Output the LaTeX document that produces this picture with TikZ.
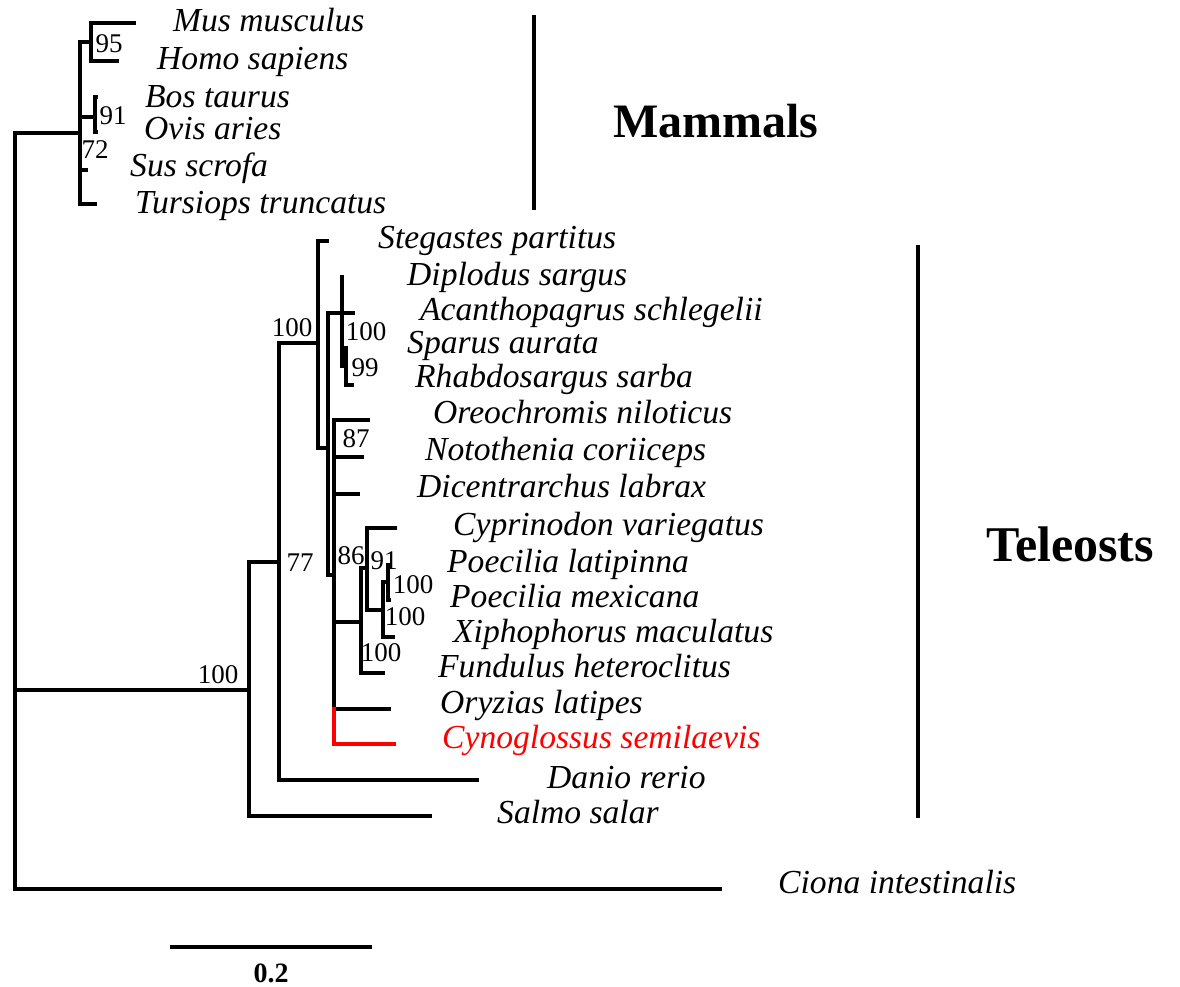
\documentclass[tikz,border=0pt]{standalone}
\usepackage{fontspec}
\setmainfont{Liberation Serif}
\newcommand{\taxfont}{\fontsize{33.6}{40}\selectfont\itshape}
\newcommand{\bootfont}{\fontsize{27}{32}\selectfont}
\newcommand{\cladefont}{\fontsize{48}{56}\selectfont\bfseries}
\begin{document}
\begin{tikzpicture}[x=1pt,y=-1pt,
  branch/.style={line width=3.9pt, line cap=rect, line join=miter},
  redbranch/.style={branch, draw=red},
  taxon/.style={anchor=base west, font=\taxfont, inner sep=0pt},
  boot/.style={font=\bootfont, inner sep=0pt},
  clade/.style={anchor=base west, font=\cladefont, inner sep=0pt},
  bar/.style={line width=3.7pt}]
\useasboundingbox (0,0) rectangle (1180,987);
% ---------- internal nodes ----------
\coordinate (R)  at (15,133);
\coordinate (M)  at (80,133);
\coordinate (Mh) at (91,42);
\coordinate (Bo) at (95,117);
\coordinate (T)  at (249,690);
\coordinate (N77) at (279,562);
\coordinate (NA) at (318,343);
\coordinate (NB) at (328,448);
\coordinate (S1) at (342,313);
\coordinate (S2) at (346,366);
\coordinate (NC) at (334,575);
\coordinate (NE) at (361,622);
\coordinate (NF) at (367,568);
\coordinate (NG) at (383,610);
\coordinate (NH) at (388,582);
% ---------- tip ends ----------
\coordinate (tMus) at (134,23);
\coordinate (tHomo) at (117,61);
\coordinate (tBos) at (96,97);
\coordinate (tOvis) at (96,132);
\coordinate (tSus) at (86,170);
\coordinate (tTurs) at (95,204);
\coordinate (tSteg) at (327,241);
\coordinate (tDipl) at (342,277);
\coordinate (tAcan) at (353,313);
\coordinate (tSpar) at (346,348);
\coordinate (tRhab) at (352,385);
\coordinate (tOreo) at (368,420);
\coordinate (tNoto) at (362,457);
\coordinate (tDice) at (358,494);
\coordinate (tCypr) at (395,528);
\coordinate (tPlat) at (389,565);
\coordinate (tPmex) at (389,600);
\coordinate (tXiph) at (393,637);
\coordinate (tFund) at (383,673);
\coordinate (tOryz) at (389,709);
\coordinate (tCyno) at (394,744);
\coordinate (tDani) at (477,780);
\coordinate (tSalm) at (430,816);
\coordinate (tCion) at (720,889);
\coordinate (cynoJ) at (NC |- tOryz);
% ---------- branches ----------
\draw[branch] (R) |- (M);
\draw[branch] (R) |- (T);
\draw[branch] (R) |- (tCion);
\draw[branch] (M) |- (Mh);
\draw[branch] (Mh) |- (tMus);
\draw[branch] (Mh) |- (tHomo);
\draw[branch] (M) |- (Bo);
\draw[branch] (Bo) |- (tBos);
\draw[branch] (Bo) |- (tOvis);
\draw[branch] (M) |- (tSus);
\draw[branch] (M) |- (tTurs);
\draw[branch] (T) |- (N77);
\draw[branch] (T) |- (tSalm);
\draw[branch] (N77) |- (NA);
\draw[branch] (N77) |- (tDani);
\draw[branch] (NA) |- (tSteg);
\draw[branch] (NA) |- (NB);
\draw[branch] (NB) |- (S1);
\draw[branch] (NB) |- (NC);
\draw[branch] (S1) |- (tDipl);
\draw[branch] (S1) |- (tAcan);
\draw[branch] (S1) |- (S2);
\draw[branch] (S2) |- (tSpar);
\draw[branch] (S2) |- (tRhab);
\draw[branch] (NC) |- (tOreo);
\draw[branch] (NC) |- (tNoto);
\draw[branch] (NC) |- (tDice);
\draw[branch] (NC) |- (NE);
\draw[branch] (NC) |- (tOryz);
\draw[branch] (NE) |- (NF);
\draw[branch] (NE) |- (tFund);
\draw[branch] (NF) |- (tCypr);
\draw[branch] (NF) |- (NG);
\draw[branch] (NG) |- (NH);
\draw[branch] (NG) |- (tXiph);
\draw[branch] (NH) |- (tPlat);
\draw[branch] (NH) |- (tPmex);
\draw[redbranch] (cynoJ) |- (tCyno);
% ---------- taxa ----------
\node[taxon] (lMus) at (173,32) {Mus musculus};
\node[taxon] (lHomo) at (157,70) {Homo sapiens};
\node[taxon] (lBos) at (145,108) {Bos taurus};
\node[taxon] (lOvis) at (144,140) {Ovis aries};
\node[taxon] (lSus) at (130,177) {Sus scrofa};
\node[taxon] (lTurs) at (135,213) {Tursiops truncatus};
\node[taxon] (lSteg) at (378,248) {Stegastes partitus};
\node[taxon] (lDipl) at (407,285) {Diplodus sargus};
\node[taxon] (lAcan) at (420,320) {Acanthopagrus schlegelii};
\node[taxon] (lSpar) at (407,353) {Sparus aurata};
\node[taxon] (lRhab) at (415,387) {Rhabdosargus sarba};
\node[taxon] (lOreo) at (433,423) {Oreochromis niloticus};
\node[taxon] (lNoto) at (425,460) {Notothenia coriiceps};
\node[taxon] (lDice) at (417,497) {Dicentrarchus labrax};
\node[taxon] (lCypr) at (453,535) {Cyprinodon variegatus};
\node[taxon] (lPlat) at (447,572) {Poecilia latipinna};
\node[taxon] (lPmex) at (450,607) {Poecilia mexicana};
\node[taxon] (lXiph) at (453,642) {Xiphophorus maculatus};
\node[taxon] (lFund) at (438,677) {Fundulus heteroclitus};
\node[taxon] (lOryz) at (440,713) {Oryzias latipes};
\node[taxon, text=red] (lCyno) at (442,748) {Cynoglossus semilaevis};
\node[taxon] (lDani) at (547,788) {Danio rerio};
\node[taxon] (lSalm) at (497,823) {Salmo salar};
\node[taxon] (lCion) at (778,893) {Ciona intestinalis};
% ---------- bootstrap values ----------
\node[boot] (b95) at (109,44) {95};
\node[boot] (b91) at (113,116) {91};
\node[boot] (b72) at (95,150) {72};
\node[boot] (b100a) at (292,328) {100};
\node[boot] (b100b) at (366,332) {100};
\node[boot] (b99) at (365,368) {99};
\node[boot] (b87) at (356,439) {87};
\node[boot] (b77) at (300,563) {77};
\node[boot] (b86) at (351,556) {86};
\node[boot] (b91b) at (384,561) {91};
\node[boot] (b100c) at (413,585) {100};
\node[boot] (b100d) at (405,617) {100};
\node[boot] (b100e) at (381,653) {100};
\node[boot] (b100f) at (218,675) {100};
% ---------- clade bars ----------
\coordinate (mTop) at (534,15);
\coordinate (mBot) at (534,210);
\draw[bar] (mTop) -- (mBot);
\node[clade] (lMam) at (613,138) {Mammals};
\coordinate (tTop) at (918,245);
\coordinate (tBot) at (918,818);
\draw[bar] (tTop) -- (tBot);
\node[clade, font=\fontsize{50}{58}\selectfont\bfseries] (lTel) at (986,561) {Teleosts};
% ---------- scale bar ----------
\coordinate (sL) at (170,947);
\coordinate (sR) at (372,947);
\draw[bar] (sL) -- (sR);
\node[anchor=base, font=\fontsize{28}{32}\selectfont\bfseries, inner sep=0pt] (sLab) at (271,982) {0.2};
\end{tikzpicture}
\end{document}
